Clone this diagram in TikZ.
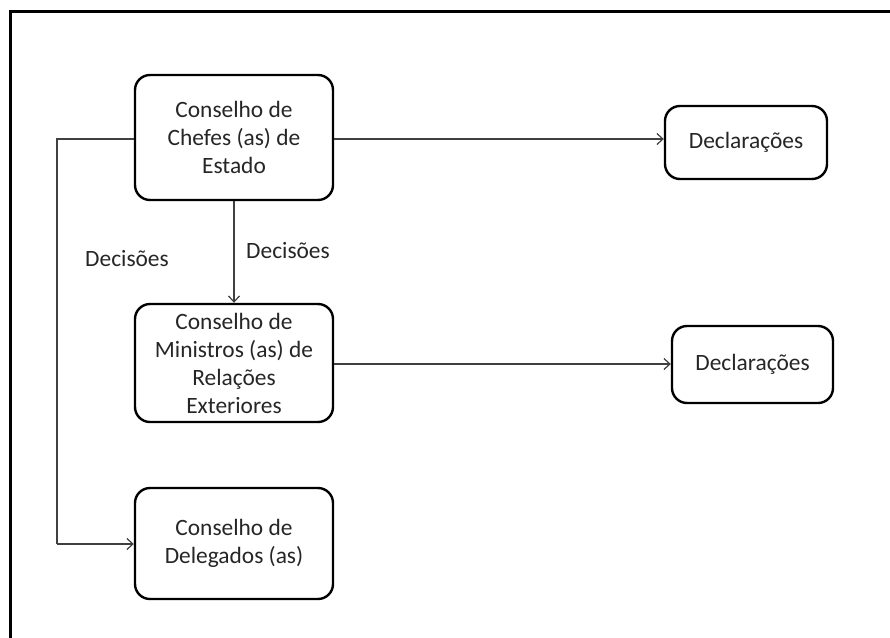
\documentclass[tikz,border=0pt]{standalone}
\usepackage{fontspec}
\setmainfont{Carlito}
\usetikzlibrary{arrows.meta}
\begin{document}
\begin{tikzpicture}[x=1pt,y=-1pt,
  council/.style={draw=black,line width=2.4pt,rounded corners=15pt,fill=white,
    align=center,inner sep=0pt,font=\fontsize{23.4}{28}\selectfont,text=black!85},
  flow/.style={draw=black!75,line width=1.3pt,-{Straight Barb[length=6pt,width=11pt,line width=1.2pt]}},
  link/.style={draw=black!75,line width=1.3pt},
  lbl/.style={font=\fontsize{23.4}{28}\selectfont,text=black!85,inner sep=0pt}]
  \useasboundingbox (0,0) rectangle (890,637);
  \fill[white] (0,0) rectangle (890,637);
  % outer frame, running past the right and bottom edges
  \begin{scope}
    \clip (0,0) rectangle (890,637);
    \draw[line width=3pt] (10,660) -- (10,11) -- (910,11);
  \end{scope}

  % councils
  \node[council,minimum width=198pt,minimum height=125pt] (chefes) at (234,137.5)
    {Conselho de\\Chefes (as) de\\Estado};
  \node[council,minimum width=198pt,minimum height=118pt] (ministros) at (234,363)
    {Conselho de\\Ministros (as) de\\Relações\\Exteriores};
  \node[council,minimum width=198pt,minimum height=111pt] (delegados) at (234,543.5)
    {Conselho de\\Delegados (as)};

  % declarations
  \node[council,minimum width=162pt,minimum height=73pt] (decl1) at (746,142.5) {Declarações};
  \node[council,minimum width=161pt,minimum height=77pt] (decl2) at (752.5,364.5) {Declarações};

  % connectors
  \draw[flow] (chefes.east |- 0,139) -- (decl1.west |- 0,139);
  \draw[flow] (ministros.east |- 0,364) -- (decl2.west |- 0,364);
  \draw[flow] (chefes.south) -- (ministros.north);
  \coordinate (bendtop) at (57,139);
  \coordinate (bendbot) at (57,544);
  \draw[link] (chefes.west |- bendtop) -- (bendtop) -- (bendbot);
  \draw[flow] (bendbot) -- (delegados.west |- bendbot);

  % labels
  \node[lbl] (decleft) at (127,259) {Decisões};
  \node[lbl] (decmid) at (288,251) {Decisões};
\end{tikzpicture}
\end{document}
